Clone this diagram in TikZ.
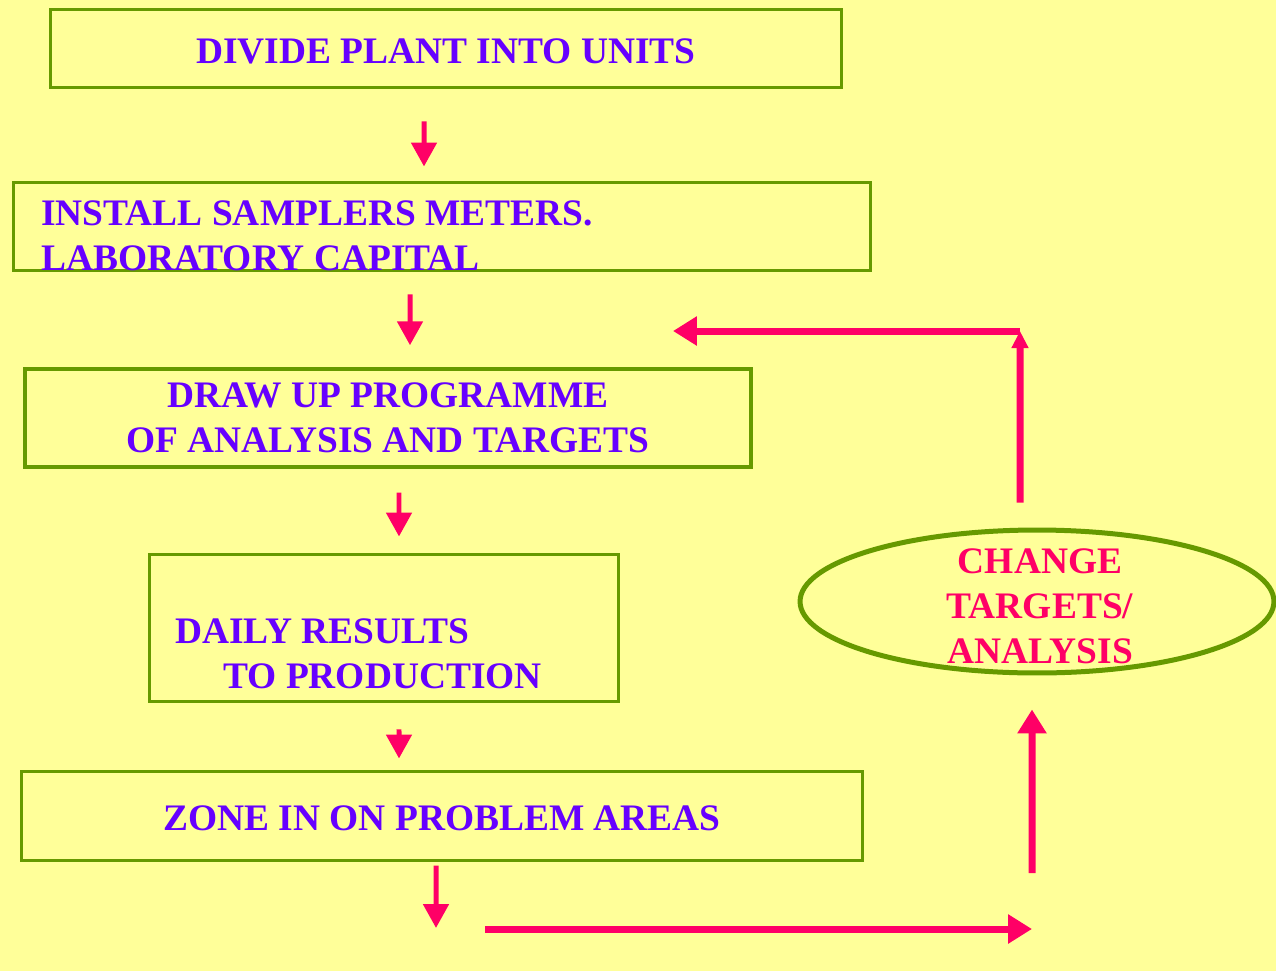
\documentclass[tikz,border=0pt]{standalone}
\usepackage{fontspec}
\setmainfont{Liberation Serif}
\usetikzlibrary{arrows.meta,shapes,positioning}

\definecolor{paleyellow}{HTML}{FFFF99}
\definecolor{leafgreen}{HTML}{669900}
\definecolor{violetblue}{HTML}{6600FF}
\definecolor{hotpink}{HTML}{FF0066}
\newcommand{\boxfont}{\fontsize{21.3}{25.5}\selectfont\bfseries}
\newcommand{\lowered}[1]{\raisebox{-1.7pt}[\height][\depth]{#1}}

\begin{document}
\begin{tikzpicture}[x=0.02cm, y=-0.02cm,
    box/.style={draw=leafgreen, line width=0.06cm, inner sep=0pt,
                font=\boxfont, text=violetblue, align=center},
    boxtext/.style={inner sep=0pt, font=\boxfont, text=violetblue, align=left},
    flow/.style={draw=hotpink, line width=0.1cm,
                 -{Triangle[width=0.5cm,length=0.48cm]}},
    backflow/.style={draw=hotpink, line width=0.14cm,
                     -{Triangle[width=0.56cm,length=0.48cm]}}]

    % Page
    \fill[paleyellow] (0,0) rectangle (1276,971);
    \useasboundingbox (0,0) rectangle (1276,971);

    % Boxes
    \node[box, minimum width=15.84cm, minimum height=1.58cm] (divide) at (446,48.5)
        {\lowered{DIVIDE PLANT INTO UNITS}};
    \node[box, minimum width=17.16cm, minimum height=1.78cm] (install) at (442,226.5) {};
    \node[boxtext, anchor=west] (installtxt) at (41,236)
        {INSTALL SAMPLERS METERS.\\LABORATORY CAPITAL};
    \node[box, line width=0.07cm, minimum width=14.52cm, minimum height=1.96cm] (programme)
        at (388,418) {DRAW UP PROGRAMME\\OF ANALYSIS AND TARGETS};
    \node[box, minimum width=9.4cm, minimum height=2.96cm] (daily) at (384,628) {};
    \node[boxtext, anchor=west] (dailytxt) at (175,654)
        {DAILY RESULTS\\\hspace*{0.96cm}TO PRODUCTION};
    \node[box, minimum width=16.84cm, minimum height=1.78cm] (zone) at (442,815.5)
        {\lowered{ZONE IN ON PROBLEM AREAS}};

    % Feedback loop
    \node[ellipse, draw=leafgreen, line width=0.1cm, minimum width=9.48cm,
          minimum height=2.86cm, inner sep=0pt] (change) at (1037,601.5) {};
    \node[inner sep=0pt, font=\boxfont, text=hotpink, align=center] (changetxt)
        at (1040,606) {CHANGE\\TARGETS/\\ANALYSIS};
    \coordinate (zoneend) at (436,928);
    \coordinate (baseleft) at (485,929);
    \coordinate (baseright) at (1032,929);
    \coordinate (riseend) at (1032,873);
    \coordinate (corner) at (1020,331);
    \coordinate (backend) at (673,331);

    % Arrows
    \draw[flow] ([xshift=-0.44cm, yshift=-0.64cm]divide.south)
        -- ([xshift=-0.36cm, yshift=0.28cm]install.north);
    \draw[flow] ([xshift=-0.64cm, yshift=-0.44cm]install.south)
        -- ([xshift=0.44cm, yshift=0.44cm]programme.north);
    \draw[flow] ([xshift=0.22cm, yshift=-0.48cm]programme.south)
        -- ([xshift=0.3cm, yshift=0.32cm]daily.north);
    \draw[flow] ([xshift=0.3cm, yshift=-0.52cm]daily.south)
        -- ([xshift=-0.86cm, yshift=0.22cm]zone.north);
    \draw[flow] ([xshift=-0.12cm, yshift=-0.08cm]zone.south) -- (zoneend);
    \draw[backflow] (baseleft) -- (baseright);
    \draw[backflow] (riseend) -- ([xshift=-0.1cm, yshift=-0.68cm]change.south);
    \draw[draw=hotpink, line width=0.14cm, -{Triangle[width=0.32cm,length=0.34cm]}]
        ([xshift=-0.34cm, yshift=0.5cm]change.north) -- (corner);
    \draw[backflow] (corner) -- (backend);
\end{tikzpicture}
\end{document}
